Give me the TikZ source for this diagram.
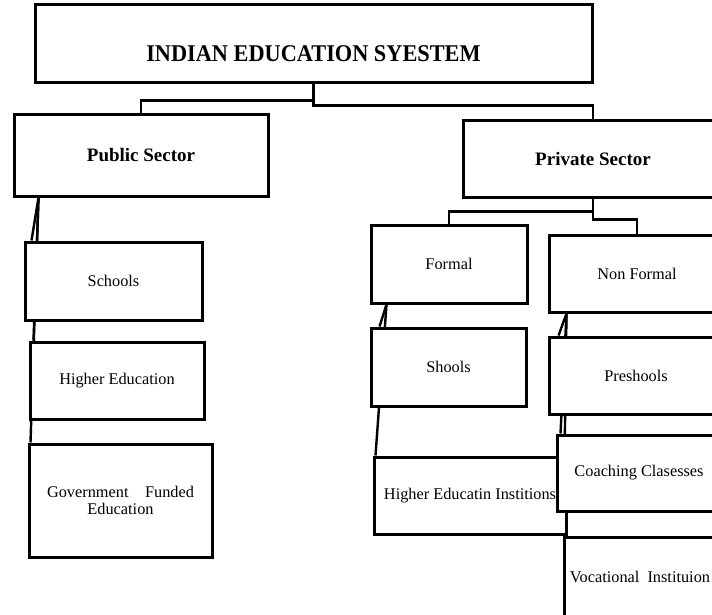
\documentclass[tikz,border=0pt]{standalone}
\usepackage{fontspec}
\setmainfont{Liberation Serif}
\usetikzlibrary{positioning, calc, backgrounds}

\begin{document}
\begin{tikzpicture}[x=1pt, y=-1pt,
        box/.style={draw, line width=3pt, fill=white, inner sep=0pt, align=center,
            font=\fontsize{16.3}{17.5}\selectfont},
        sector/.style={box, font=\bfseries\fontsize{19}{22}\selectfont},
        link/.style={line width=2.4pt}]
    \useasboundingbox (0,0) rectangle (712,615);
    % top and the two sectors
    \node [box, minimum width=557, minimum height=78, text height=36pt, text depth=0pt,
        font=\bfseries\fontsize{24}{26}\selectfont] (n_top) at (313.5,44)
        {\scalebox{0.93}[1]{INDIAN EDUCATION SYESTEM}};
    \node [sector, minimum width=254, minimum height=81] (n_pub) at (141,155.5) {Public Sector};
    \node [sector, minimum width=260, minimum height=76] (n_priv) at (593,159) {Private Sector};
    % public side
    \node [box, minimum width=177, minimum height=78] (n_sch) at (113.5,281) {Schools};
    \node [box, minimum width=174, minimum height=77] (n_he) at (117,380.5) {Higher Education};
    \node [box, minimum width=183, minimum height=113] (n_gov) at (120.5,500.5)
        {Government\hspace{16.5pt}Funded\\Education};
    % private side
    \node [box, minimum width=156, minimum height=78] (n_formal) at (449,264) {Formal};
    \node [box, minimum width=155, minimum height=78] (n_shools) at (448.5,367) {Shools};
    \node [box, minimum width=192, minimum height=77] (n_heinst) at (470,495.5) {Higher Educatin Institions};
    \node [box, minimum width=176, minimum height=77] (n_nonformal) at (637,273.5) {Non Formal};
    \node [box, minimum width=174, minimum height=77] (n_pre) at (636,375.5) {Preshools};
    \node [box, minimum width=164, minimum height=76] (n_coach) at (639,473) {Coaching Clasesses};
    \node [box, minimum width=152, minimum height=79, text height=12pt, text depth=0pt] (n_voc) at (640,576.5)
        {Vocational\ \ Instituion};

    \begin{scope}[on background layer]
        % elbows below the boxes
        \draw [link] (n_top.south) -- ++(0,16) -| (n_pub.north);
        \draw [link] (n_top.south) -- ++(0,21) -| (n_priv.north);
        \draw [link] (n_priv.south) -- ++(0,13) -| (n_formal.north);
        \draw [link] (n_priv.south) -- ++(0,21) -| (n_nonformal.north);
        % hanging lines down the left sides
        \draw [link] ($(n_pub.south west)+(26,0)$) -- ($(n_sch.north west)+(8,0)$);
        \draw [link] ($(n_pub.south west)+(26,0)$) -- ($(n_he.north west)+(5,0)$);
        \draw [link] ($(n_pub.south west)+(26,0)$) -- ($(n_gov.north west)+(3,0)$);
        \draw [link] ($(n_formal.south west)+(17,0)$) -- ($(n_shools.north west)+(10,0)$);
        \draw [link] ($(n_formal.south west)+(17,0)$) -- ($(n_heinst.north west)+(3,0)$);
        \draw [link] ($(n_nonformal.south west)+(19,0)$) -- ($(n_pre.north west)+(11,0)$);
        \draw [link] ($(n_nonformal.south west)+(19,0)$) -- ($(n_coach.north west)+(5,0)$);
        \draw [link] ($(n_nonformal.south west)+(19,0)$) -- ($(n_voc.north west)+(1,0)$);
    \end{scope}
\end{tikzpicture}
\end{document}
